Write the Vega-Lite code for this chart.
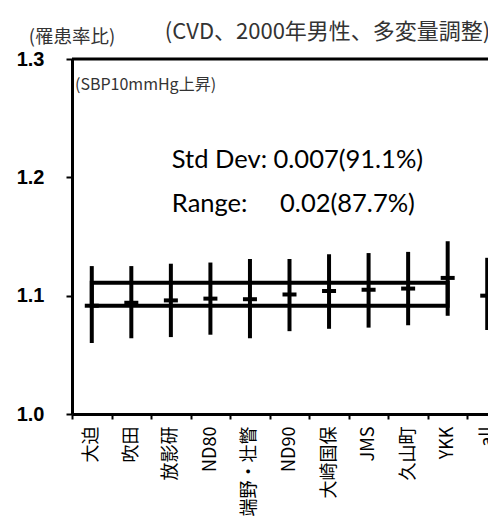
{
  "$schema": "https://vega.github.io/schema/vega-lite/v6.json",
  "width": 416,
  "height": 355,
  "autosize": {"type": "none"},
  "padding": {"left": 72, "top": 59, "right": 0, "bottom": 115},
  "background": "white",
  "config": {"view": {"stroke": null}, "axis": {"grid": false}},
  "datasets": {
    "cohorts": [
      {"cohort": "大迫", "est": 1.0915, "lo": 1.060, "hi": 1.125},
      {"cohort": "吹田", "est": 1.094, "lo": 1.064, "hi": 1.125},
      {"cohort": "放影研", "est": 1.096, "lo": 1.065, "hi": 1.127},
      {"cohort": "ND80", "est": 1.0975, "lo": 1.067, "hi": 1.128},
      {"cohort": "端野・壮瞥", "est": 1.097, "lo": 1.064, "hi": 1.131},
      {"cohort": "ND90", "est": 1.101, "lo": 1.070, "hi": 1.131},
      {"cohort": "大崎国保", "est": 1.104, "lo": 1.072, "hi": 1.135},
      {"cohort": "JMS", "est": 1.105, "lo": 1.073, "hi": 1.136},
      {"cohort": "久山町", "est": 1.106, "lo": 1.075, "hi": 1.137},
      {"cohort": "YKK", "est": 1.115, "lo": 1.083, "hi": 1.146},
      {"cohort": "all", "est": 1.100, "lo": 1.071, "hi": 1.132}
    ],
    "rangebox": [
      {"from": "大迫", "to": "YKK", "lo": 1.0915, "hi": 1.111}
    ],
    "notes": [
      {"label": "(罹患率比)"},
      {"label": "(CVD、2000年男性、多変量調整)"},
      {"label": "(SBP10mmHg上昇)"},
      {"label": "Std Dev: 0.007(91.1%)"},
      {"label": "Range:\u00a0\u00a0\u00a0\u00a0\u00a00.02(87.7%)"}
    ]
  },
  "layer": [
    {
      "data": {"name": "cohorts"},
      "mark": {"type": "rule", "color": "black", "strokeWidth": 4},
      "encoding": {
        "x": {
          "field": "cohort", "type": "nominal",
          "scale": {"domain": ["大迫", "吹田", "放影研", "ND80", "端野・壮瞥", "ND90", "大崎国保", "JMS", "久山町", "YKK", "all"], "range": [0, 435], "paddingInner": 0, "paddingOuter": 0},
          "axis": {
            "title": null, "labelAngle": -90, "labelAlign": "right", "labelBaseline": "middle",
            "labelFont": "Noto Sans CJK JP", "labelFontSize": 18, "labelColor": "black", "labelPadding": 7,
            "tickBand": "extent", "tickSize": 5, "tickWidth": 2, "tickColor": "black",
            "domainWidth": 3, "domainColor": "black"
          }
        },
        "y": {
          "field": "lo", "type": "quantitative",
          "scale": {"domain": [1.0, 1.3], "nice": false, "zero": false},
          "axis": {
            "title": null, "values": [1.0, 1.1, 1.2, 1.3], "format": ".1f",
            "labelFont": "Liberation Sans", "labelFontWeight": "bold", "labelFontSize": 20, "labelColor": "black",
            "labelPadding": 22, "tickSize": 6, "tickWidth": 2, "tickColor": "black",
            "domainWidth": 3, "domainColor": "black"
          }
        },
        "y2": {"field": "hi"}
      }
    },
    {
      "data": {"name": "cohorts"},
      "mark": {"type": "tick", "color": "black", "opacity": 1, "orient": "horizontal", "size": 14, "thickness": 4},
      "encoding": {
        "x": {"field": "cohort", "type": "nominal"},
        "y": {"field": "est", "type": "quantitative"}
      }
    },
    {
      "data": {"name": "rangebox"},
      "mark": {"type": "rect", "fill": null, "stroke": "black", "strokeWidth": 4},
      "encoding": {
        "x": {"field": "from", "type": "nominal", "bandPosition": 0.5},
        "x2": {"field": "to", "bandPosition": 0.5},
        "y": {"field": "lo", "type": "quantitative"},
        "y2": {"field": "hi"}
      }
    },
    {
      "data": {"values": [{"top": 1.3}]},
      "mark": {"type": "rule", "color": "black", "strokeWidth": 3},
      "encoding": {"y": {"field": "top", "type": "quantitative"}}
    },
    {
      "data": {"name": "notes"},
      "transform": [{"filter": "datum.label == '(罹患率比)'"}],
      "mark": {"type": "text", "align": "center", "baseline": "middle", "font": "Noto Sans CJK JP", "fontSize": 18.5, "color": "#333333", "dx": 0},
      "encoding": {
        "x": {"datum": "大迫", "bandPosition": 0},
        "y": {"datum": 1.3186, "type": "quantitative"},
        "text": {"field": "label"}
      }
    },
    {
      "data": {"name": "notes"},
      "transform": [{"filter": "indexof(datum.label, 'CVD') >= 0"}],
      "mark": {"type": "text", "align": "left", "baseline": "middle", "font": "Noto Sans CJK JP", "fontSize": 22, "color": "#333333", "dx": -6},
      "encoding": {
        "x": {"datum": "放影研", "bandPosition": 0.5},
        "y": {"datum": 1.3228, "type": "quantitative"},
        "text": {"field": "label"}
      }
    },
    {
      "data": {"name": "notes"},
      "transform": [{"filter": "indexof(datum.label, 'SBP') >= 0"}],
      "mark": {"type": "text", "align": "left", "baseline": "middle", "font": "Noto Sans CJK JP", "fontSize": 16, "color": "#333333", "dx": 3},
      "encoding": {
        "x": {"datum": "大迫", "bandPosition": 0},
        "y": {"datum": 1.278, "type": "quantitative"},
        "text": {"field": "label"}
      }
    },
    {
      "data": {"name": "notes"},
      "transform": [{"filter": "indexof(datum.label, 'Std') >= 0"}],
      "mark": {"type": "text", "align": "left", "baseline": "middle", "font": "Lato", "fontSize": 25.5, "color": "black", "dx": 1},
      "encoding": {
        "x": {"datum": "放影研", "bandPosition": 0.5},
        "y": {"datum": 1.2147, "type": "quantitative"},
        "text": {"field": "label"}
      }
    },
    {
      "data": {"name": "notes"},
      "transform": [{"filter": "indexof(datum.label, 'Range') >= 0"}],
      "mark": {"type": "text", "align": "left", "baseline": "middle", "font": "Lato", "fontSize": 25.5, "color": "black", "dx": 1},
      "encoding": {
        "x": {"datum": "放影研", "bandPosition": 0.5},
        "y": {"datum": 1.1775, "type": "quantitative"},
        "text": {"field": "label"}
      }
    }
  ]
}
